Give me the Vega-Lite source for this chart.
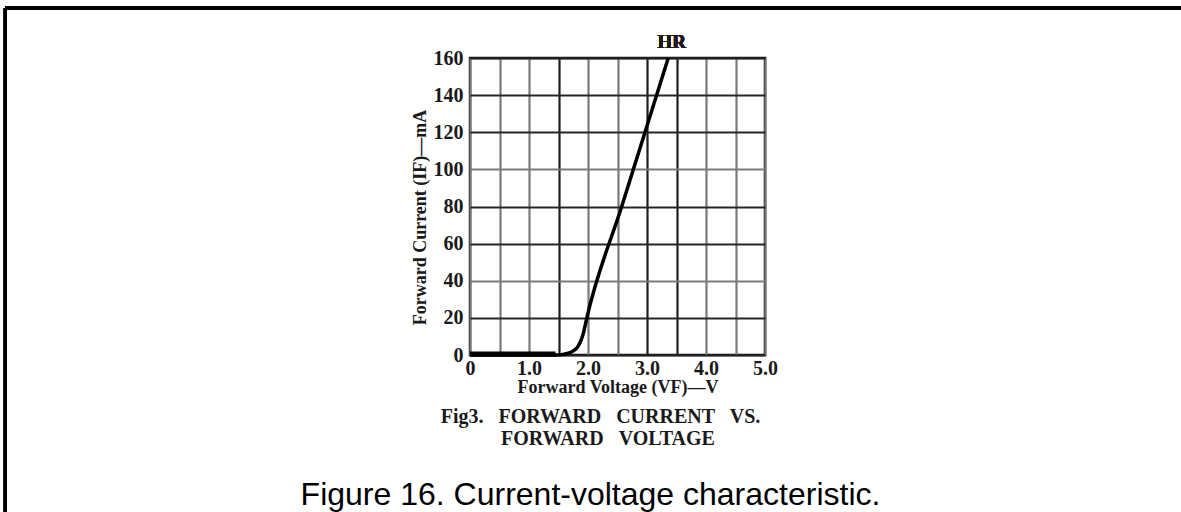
{
  "$schema": "https://vega.github.io/schema/vega-lite/v6.json",
  "width": 295,
  "height": 297,
  "autosize": {"type": "none"},
  "padding": {"left": 470, "top": 58, "right": 416, "bottom": 157},
  "background": "white",
  "config": {
    "view": {"stroke": "#111", "strokeWidth": 2.5},
    "font": "Liberation Serif"
  },
  "title": {
    "text": ["\u200b\u00a0\u00a0\u00a0\u00a0Fig3. \u00a0\u00a0FORWARD \u00a0\u00a0CURRENT \u00a0\u00a0VS.", "\u200b\u00a0\u00a0\u00a0\u00a0\u00a0\u00a0\u00a0FORWARD \u00a0\u00a0VOLTAGE"],
    "subtitle": "Figure 16. Current-voltage characteristic.",
    "orient": "bottom",
    "anchor": "middle",
    "frame": "group",
    "dx": -27,
    "offset": -116,
    "baseline": "top",
    "font": "Liberation Serif",
    "fontSize": 20,
    "fontWeight": "bold",
    "color": "#1a1a1a",
    "lineHeight": 22,
    "subtitleFont": "Liberation Sans",
    "subtitleFontSize": 32,
    "subtitleFontWeight": "normal",
    "subtitleColor": "#000",
    "subtitlePadding": 31
  },
  "data": {
    "values": [
      {"V": 0, "I": 0},
      {"V": 1.45, "I": 0},
      {"V": 1.55, "I": 0.2},
      {"V": 1.65, "I": 0.8},
      {"V": 1.75, "I": 2.2},
      {"V": 1.82, "I": 4.2},
      {"V": 1.87, "I": 7},
      {"V": 1.92, "I": 11.5},
      {"V": 1.98, "I": 20},
      {"V": 2.571, "I": 80},
      {"V": 2.966, "I": 120},
      {"V": 3.36, "I": 160}
    ]
  },
  "layer": [
    {
      "mark": {"type": "line", "color": "#000", "strokeWidth": 3.5, "interpolate": "monotone", "strokeCap": "butt"},
      "encoding": {
        "x": {
          "field": "V",
          "type": "quantitative",
          "scale": {"domain": [0, 5], "nice": false, "zero": false},
          "axis": {
            "values": [0, 0.5, 1, 1.5, 2, 2.5, 3, 3.5, 4, 4.5, 5],
            "tickCount": 20,
            "labelExpr": "datum.value == 0 ? '0' : (datum.value % 1 == 0 ? format(datum.value, '.1f') : '')",
            "ticks": false,
            "domain": false,
            "grid": true,
            "gridColor": {"condition": {"test": "datum.value == 1.5 || datum.value == 3 || datum.value == 3.5", "value": "#1e1e1e"}, "value": "#7a7a7a"},
            "gridWidth": 2.2,
            "gridOpacity": 1,
            "labelFont": "Liberation Serif",
            "labelFontSize": 20,
            "labelFontWeight": "bold",
            "labelColor": "#1a1a1a",
            "labelPadding": 3,
            "labelFlush": false,
            "labelOverlap": false,
            "title": "Forward Voltage (VF)—V",
            "titleFont": "Liberation Serif",
            "titleFontSize": 18,
            "titleFontWeight": "bold",
            "titleColor": "#1a1a1a",
            "titlePadding": 0
          }
        },
        "y": {
          "field": "I",
          "type": "quantitative",
          "scale": {"domain": [0, 160], "nice": false},
          "axis": {
            "values": [0, 20, 40, 60, 80, 100, 120, 140, 160],
            "tickCount": 20,
            "ticks": false,
            "domain": false,
            "grid": true,
            "gridColor": {"condition": {"test": "datum.value == 100 || datum.value == 40", "value": "#7a7a7a"}, "value": "#262626"},
            "gridWidth": 2.2,
            "gridOpacity": 1,
            "labelFont": "Liberation Serif",
            "labelFontSize": 20,
            "labelFontWeight": "bold",
            "labelColor": "#1a1a1a",
            "labelPadding": 7,
            "labelOverlap": false,
            "labelFlush": false,
            "title": "Forward Current (IF)—mA",
            "titleFont": "Liberation Serif",
            "titleFontSize": 18,
            "titleFontWeight": "bold",
            "titleColor": "#1a1a1a",
            "titlePadding": 4,
            "titleY": 159
          }
        }
      }
    },
    {
      "transform": [{"filter": "datum.V <= 1.5"}],
      "mark": {"type": "line", "color": "#000", "strokeWidth": 5, "strokeCap": "butt", "yOffset": -1},
      "encoding": {
        "x": {"field": "V", "type": "quantitative"},
        "y": {"field": "I", "type": "quantitative"}
      }
    },
    {
      "mark": {"type": "rule", "color": "#000", "strokeWidth": 2.5},
      "encoding": {
        "y": {"datum": 186.9, "type": "quantitative"},
        "x": {"datum": -7.88, "type": "quantitative"},
        "x2": {"datum": 14}
      }
    },
    {
      "mark": {"type": "rule", "color": "#000", "strokeWidth": 2.5},
      "encoding": {
        "x": {"datum": -7.88, "type": "quantitative"},
        "y": {"datum": 186.9, "type": "quantitative"},
        "y2": {"datum": -90}
      }
    },
    {
      "mark": {"type": "text", "font": "Liberation Serif", "fontSize": 19, "fontWeight": "bold", "color": "#1a1a1a", "dy": -16},
      "encoding": {
        "x": {"datum": 3.42, "type": "quantitative"},
        "y": {"datum": 160, "type": "quantitative"},
        "text": {"value": "HR"}
      }
    }
  ]
}
